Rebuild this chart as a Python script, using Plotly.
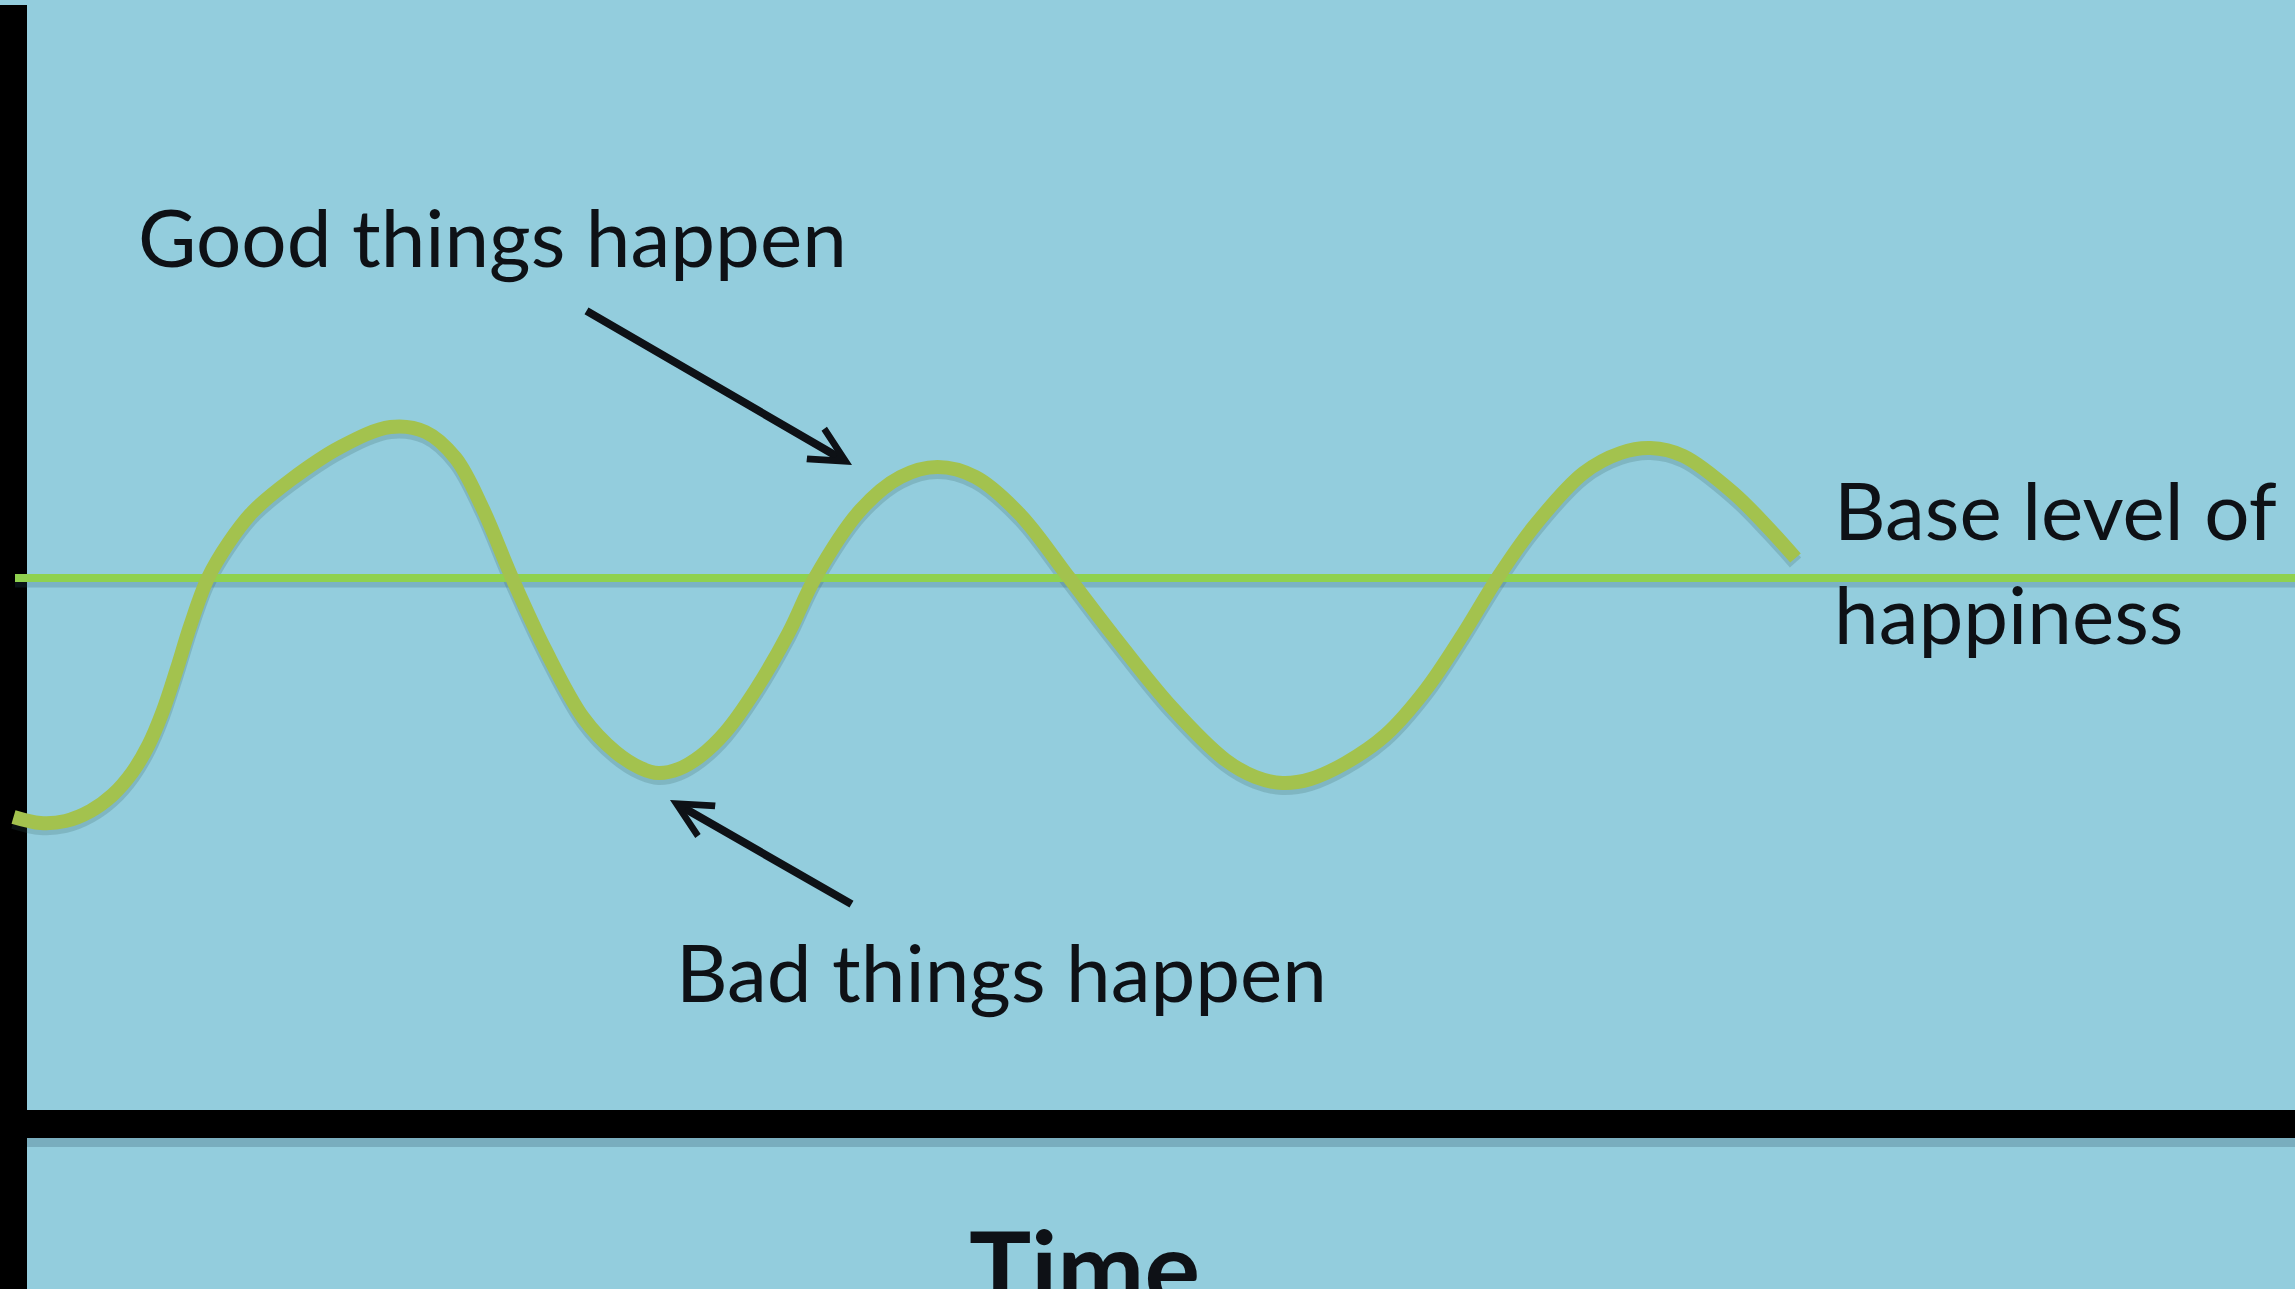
import plotly.graph_objects as go

# ---------------- data (time units, happiness units; time axis at happiness 0) ----------------
time = [0.00, 0.27, 0.52, 0.77, 0.99, 1.19, 1.35, 1.49, 1.63, 1.77, 1.94, 2.15, 2.39, 2.77,
        3.27, 3.77, 4.12, 4.42, 4.69, 4.99, 5.32, 5.70, 6.02, 6.27, 6.45, 6.65, 6.87, 7.12,
        7.42, 7.75, 8.02, 8.47, 8.87, 9.24, 9.62, 10.07, 10.55, 11.01, 11.58, 12.12, 12.42,
        12.69, 12.97, 13.32, 13.72, 14.12, 14.49, 14.84, 15.20, 15.70, 16.07, 16.37, 16.70,
        17.20, 17.54, 17.82]
happiness = [3.07, 3.01, 3.03, 3.13, 3.29, 3.52, 3.79, 4.12, 4.54, 4.99, 5.45, 5.81, 6.12, 6.44,
             6.77, 6.97, 6.92, 6.66, 6.16, 5.45, 4.74, 4.06, 3.72, 3.56, 3.51, 3.55, 3.68, 3.92,
             4.34, 4.91, 5.47, 6.14, 6.47, 6.57, 6.47, 6.09, 5.47, 4.87, 4.17, 3.64, 3.47,
             3.41, 3.45, 3.61, 3.89, 4.34, 4.89, 5.46, 5.97, 6.51, 6.71, 6.76, 6.68,
             6.31, 5.97, 5.66]
base_level = 5.46
base_time = [0.015, 22.9]

labels = {
    "good": "Good things happen",
    "bad": "Bad things happen",
    "base": "Base level of<br>happiness",
    "axis": "Time",
}

# ---------------- style ----------------
BG = "#93CDDD"
CURVE = "#A3C24E"
BASE = "#8FD14F"
INK = "#0E1116"
FONT = "Lato"

X_RANGE = [-0.135, 22.815]
Y_RANGE = [-1.65, 11.24]

fig = go.Figure()

# subtle shadows
fig.add_trace(go.Scatter(x=base_time, y=[base_level - 0.06] * 2, mode="lines",
                         line=dict(color="rgba(40,80,110,0.22)", width=7), hoverinfo="skip"))
fig.add_trace(go.Scatter(x=time, y=[h - 0.045 for h in happiness], mode="lines",
                         line=dict(color="rgba(50,90,90,0.20)", width=15, shape="spline", smoothing=1.0),
                         hoverinfo="skip"))

# base level line
fig.add_trace(go.Scatter(x=base_time, y=[base_level] * 2, mode="lines",
                         line=dict(color=BASE, width=8), hoverinfo="skip"))
# happiness curve
fig.add_trace(go.Scatter(x=time, y=happiness, mode="lines",
                         line=dict(color=CURVE, width=14, shape="spline", smoothing=1.0),
                         hoverinfo="skip"))

# axes bars (time axis at happiness 0, happiness axis at time 0)
shapes = [
    dict(type="rect", xref="x", yref="y", x0=-0.135, x1=22.815, y0=-0.14 - 0.09, y1=-0.14,
         fillcolor="rgba(30,60,80,0.22)", line=dict(width=0), layer="below"),
    dict(type="rect", xref="x", yref="y", x0=-0.135, x1=22.815, y0=-0.14, y1=0.14,
         fillcolor="black", line=dict(width=0), layer="below"),
    dict(type="rect", xref="x", yref="y", x0=-0.135, x1=0.135, y0=-1.65, y1=11.19,
         fillcolor="black", line=dict(width=0), layer="below"),
]

annotations = [
    dict(x=1.225, y=8.88, xref="x", yref="y", text=labels["good"], showarrow=False,
         xanchor="left", yanchor="middle", font=dict(family=FONT, size=80, color=INK)),
    dict(x=6.605, y=1.53, xref="x", yref="y", text=labels["bad"], showarrow=False,
         xanchor="left", yanchor="middle", font=dict(family=FONT, size=80, color=INK)),
    dict(x=18.185, y=5.63, xref="x", yref="y", text=labels["base"], showarrow=False,
         xanchor="left", yanchor="middle", align="left",
         font=dict(family=FONT, size=80, color=INK)),
    dict(x=9.53, y=-1.41, xref="x", yref="y", text="<b>" + labels["axis"] + "</b>", showarrow=False,
         xanchor="left", yanchor="middle", font=dict(family=FONT, size=104, color=INK)),
    # arrows
    dict(x=8.385, y=6.59, ax=5.715, ay=8.14, xref="x", yref="y", axref="x", ayref="y",
         text="", showarrow=True, arrowhead=5, arrowsize=0.85, arrowwidth=8, arrowcolor=INK),
    dict(x=6.565, y=3.24, ax=8.395, ay=2.19, xref="x", yref="y", axref="x", ayref="y",
         text="", showarrow=True, arrowhead=5, arrowsize=0.85, arrowwidth=8, arrowcolor=INK),
]

fig.update_layout(
    width=2295, height=1289,
    margin=dict(l=0, r=0, t=0, b=0, pad=0),
    paper_bgcolor=BG, plot_bgcolor=BG,
    showlegend=False,
    xaxis=dict(range=X_RANGE, visible=False, fixedrange=True),
    yaxis=dict(range=Y_RANGE, visible=False, fixedrange=True),
    shapes=shapes,
    annotations=annotations,
)

fig.write_html("out.html", config={"displayModeBar": False},
               post_script="document.body.style.margin='0';document.body.style.overflow='hidden';")
